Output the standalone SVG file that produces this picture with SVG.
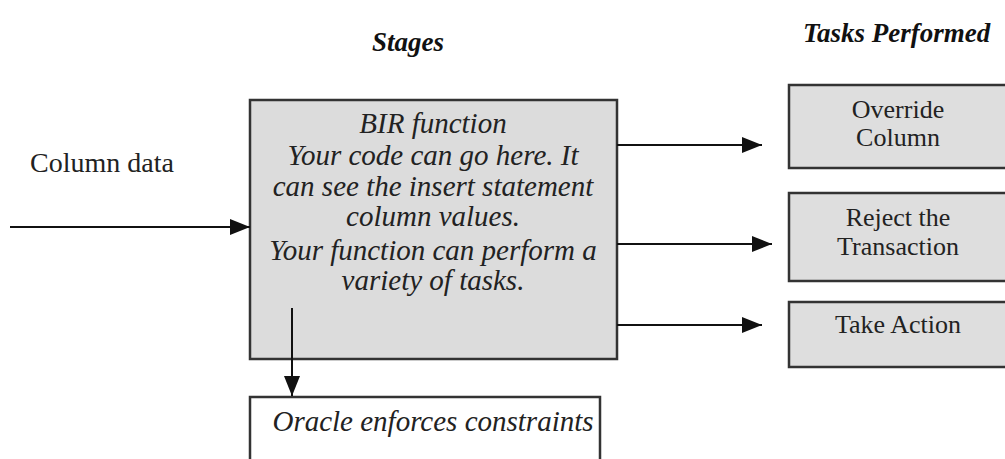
<svg xmlns="http://www.w3.org/2000/svg" width="1005" height="459" viewBox="0 0 1005 459">
  <defs>
    <marker id="arrowL" markerWidth="20" markerHeight="16" refX="20" refY="8" orient="auto" markerUnits="userSpaceOnUse" viewBox="0 0 20 16">
      <path d="M0,0 L20,8 L0,16 z" fill="#111"/>
    </marker>
  </defs>
  <style>
    .bg { fill: #ffffff; }
    .stage { fill: #dcdcdc; stroke: #333; stroke-width: 2.5; }
    .task { fill: #dedede; stroke: #333; stroke-width: 2.5; }
    .plain { fill: #ffffff; stroke: #333; stroke-width: 2.5; }
    .edge { fill: none; stroke: #111; stroke-width: 2; marker-end: url(#arrowL); }
    .hdr { font-family: "Liberation Serif", serif; font-style: italic; font-weight: bold; font-size: 27px; fill: #111; }
    .body { font-family: "Liberation Serif", serif; font-style: italic; font-size: 29px; fill: #222; text-anchor: middle; }
    .lbl { font-family: "Liberation Serif", serif; font-size: 26px; fill: #222; text-anchor: middle; }
    .side { font-family: "Liberation Serif", serif; font-size: 28px; fill: #222; }
  </style>
  <rect class="bg" x="0" y="0" width="1005" height="459"/>

  <text class="hdr" x="372" y="51">Stages</text>
  <text class="hdr" x="803" y="42">Tasks Performed</text>

  <g id="column-data">
    <text class="side" x="30" y="172">Column data</text>
  </g>

  <g id="bir-function">
    <rect class="stage" x="250" y="100" width="367" height="259"/>
    <text class="body" x="433" y="133">BIR function</text>
    <text class="body" x="433" y="165">Your code can go here. It</text>
    <text class="body" x="433" y="196">can see the insert statement</text>
    <text class="body" x="433" y="226">column values.</text>
    <text class="body" x="433" y="260">Your function can perform a</text>
    <text class="body" x="433" y="290">variety of tasks.</text>
  </g>

  <g id="oracle-constraints">
    <rect class="plain" x="250" y="397" width="350" height="80"/>
    <text class="body" x="433" y="431">Oracle enforces constraints</text>
  </g>

  <g id="override-column">
    <rect class="task" x="789" y="85" width="225" height="83"/>
    <text class="lbl" x="898" y="118">Override</text>
    <text class="lbl" x="898" y="146">Column</text>
  </g>

  <g id="reject-transaction">
    <rect class="task" x="789" y="193" width="225" height="88"/>
    <text class="lbl" x="898" y="226">Reject the</text>
    <text class="lbl" x="898" y="255">Transaction</text>
  </g>

  <g id="take-action">
    <rect class="task" x="789" y="302" width="225" height="65"/>
    <text class="lbl" x="898" y="333">Take Action</text>
  </g>

  <g id="connectors">
    <line class="edge" x1="10" y1="227" x2="250" y2="227"/>
    <line class="edge" x1="617" y1="145" x2="762" y2="145"/>
    <line class="edge" x1="617" y1="244" x2="772" y2="244"/>
    <line class="edge" x1="617" y1="325" x2="762" y2="325"/>
    <line class="edge" x1="292" y1="308" x2="292" y2="396"/>
  </g>
</svg>
